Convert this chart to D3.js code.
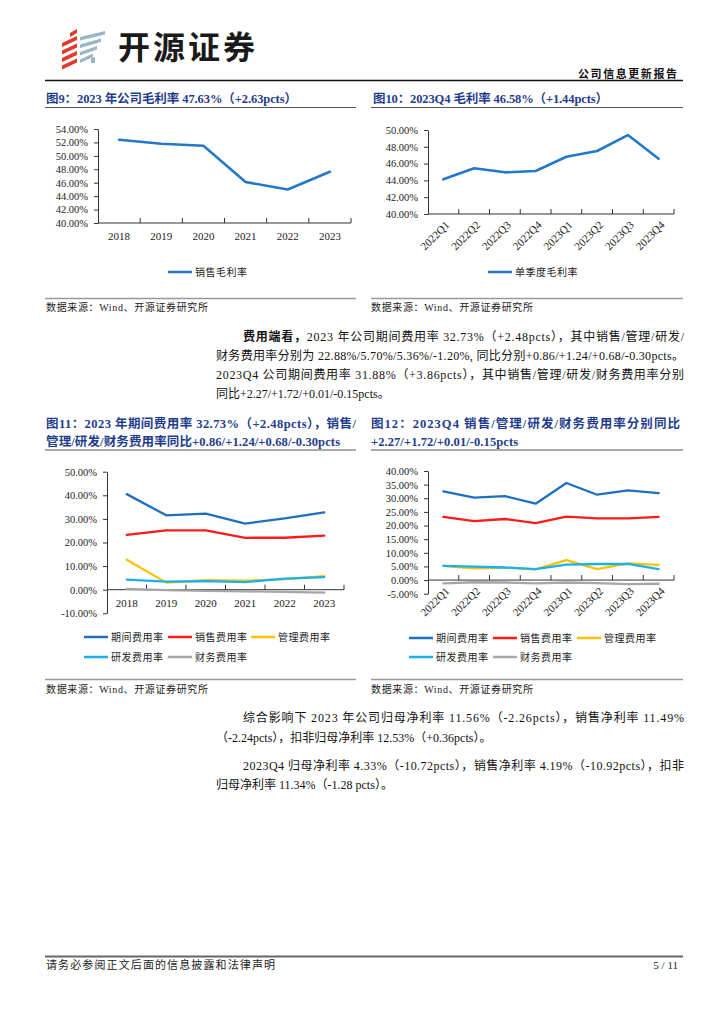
<!DOCTYPE html>
<html><head><meta charset="utf-8">
<script src="https://cdn.jsdelivr.net/npm/d3@7"></script>
<style>html,body{margin:0;padding:0;background:#fff;}svg{display:block;}</style>
</head><body>
<script>
// ---------------- DATA ----------------
const gmYears = ["2018","2019","2020","2021","2022","2023"];
const gmAnnual = [52.4, 51.8, 51.5, 46.1, 45.0, 47.63];

const quarters = ["2022Q1","2022Q2","2022Q3","2022Q4","2023Q1","2023Q2","2023Q3","2023Q4"];
const gmQuarter = [44.13, 45.44, 44.96, 45.12, 46.82, 47.5, 49.4, 46.58];

const expNames = ["期间费用率","销售费用率","管理费用率","研发费用率","财务费用率"];
const expPeriodAnnual = [40.5, 31.5, 32.2, 28.0, 30.25, 32.73];
const expSellAnnual   = [23.2, 25.1, 25.1, 22.0, 22.02, 22.88];
const expAdminAnnual  = [12.7, 3.0, 4.0, 3.8, 4.46, 5.70];
const expRDAnnual     = [4.3, 3.4, 3.6, 3.2, 4.68, 5.36];
const expFinAnnual    = [0.3, -0.2, -0.5, -0.7, -0.9, -1.2];

const expPeriodQ = [32.5, 30.2, 30.8, 28.0, 35.6, 31.3, 32.9, 31.88];
const expSellQ   = [23.2, 21.6, 22.4, 20.9, 23.3, 22.6, 22.6, 23.2];
const expAdminQ  = [5.2, 4.3, 4.6, 3.9, 7.3, 4.0, 6.1, 5.6];
const expRDQ     = [5.2, 4.9, 4.6, 4.0, 5.7, 5.9, 5.9, 4.0];
const expFinQ    = [-1.2, -0.8, -0.9, -1.2, -0.9, -1.1, -1.5, -1.35];

const gmTicksAnnual = [40,42,44,46,48,50,52,54];
const gmTicksQuarter = [40,42,44,46,48,50];
const expTicksAnnual = [-10,0,10,20,30,40,50];
const expTicksQuarter = [-5,0,5,10,15,20,25,30,35,40];

// ---------------- STYLE ----------------
const FONT = "'Liberation Serif','Noto Sans CJK SC',serif";
const TITLE_COLOR = "#1f3d8c";
const COLORS = ["#1f6fbf","#ff1a1a","#ffc000","#17b2ee","#a6a6a6"];
const GM_COLOR = "#2478c8";

const svg = d3.select("body").append("svg").attr("width",724).attr("height",1024)
  .style("font-family", FONT);
svg.append("rect").attr("width",724).attr("height",1024).attr("fill","#fff");

function txt(x, y, s, o = {}) {
  const t = svg.append("text").attr("x", x).attr("y", y)
    .attr("font-size", o.size || 12)
    .attr("fill", o.fill || "#111")
    .attr("font-weight", o.bold ? "bold" : "normal")
    .attr("text-anchor", o.anchor || "start")
    .text(s);
  if (o.len) t.attr("textLength", o.len).attr("lengthAdjust", "spacing");
  if (o.ls) t.attr("letter-spacing", o.ls);
  return t;
}
function hline(x1, x2, y, color, w) {
  svg.append("line").attr("x1",x1).attr("x2",x2).attr("y1",y).attr("y2",y)
    .attr("stroke",color).attr("stroke-width",w);
}

// ---------------- HEADER ----------------
const logo = svg.append("g");
const red = "#e0392d", blue = "#98b6c8";
[0,1,2,3].forEach(i => {
  const y = 38 + i * 7.5;
  logo.append("path").attr("d", `M62,${y+5} L77,${y-2} L77,${y+2} L62,${y+9} Z`).attr("fill", red);
});
logo.append("path").attr("d","M70,33 L77,29 L77,33 L70,37 Z").attr("fill", red);
[0,1,2,3].forEach(i => {
  const y = 31 + i * 7.5;
  const w = 25 - i * 4;
  logo.append("path").attr("d", `M80,${y+6} L${80+w},${y} L${80+w},${y+3.5} L80,${y+9.5} Z`).attr("fill", blue);
});
logo.append("path").attr("d","M91,58 L95,57 L95,63 L91,63 Z").attr("fill", blue);

txt(118, 59, "开源证券", {size: 32, bold: true, fill: "#1a1a1a", len: 137});
txt(578, 78, "公司信息更新报告", {size: 11, bold: true, len: 99});
hline(45, 683, 80.5, "#111", 1.5);

// ---------------- TITLES ----------------
txt(46, 103, "图9：2023 年公司毛利率 47.63%（+2.63pcts）", {size: 12.5, bold: true, fill: TITLE_COLOR, len: 251});
txt(373, 103, "图10：2023Q4 毛利率 46.58%（+1.44pcts）", {size: 12.5, bold: true, fill: TITLE_COLOR, len: 235});
hline(45, 356, 107.5, "#555", 1);
hline(371, 683, 107.5, "#555", 1);

txt(46, 428, "图11：2023 年期间费用率 32.73%（+2.48pcts），销售/", {size: 12.5, bold: true, fill: TITLE_COLOR, len: 310});
txt(46, 446, "管理/研发/财务费用率同比+0.86/+1.24/+0.68/-0.30pcts", {size: 12.5, bold: true, fill: TITLE_COLOR, len: 294});
txt(371, 428, "图12：2023Q4 销售/管理/研发/财务费用率分别同比", {size: 12.5, bold: true, fill: TITLE_COLOR, len: 309});
txt(371, 446, "+2.27/+1.72/+0.01/-0.15pcts", {size: 12.5, bold: true, fill: TITLE_COLOR, len: 147});
hline(45, 356, 450, "#555", 1);
hline(371, 683, 450, "#555", 1);

// ---------------- CHART FUNCTION ----------------
function lineChart(c) {
  const g = svg.append("g");
  const x = d3.scaleBand().domain(c.cats).range([c.left, c.right]);
  const y = d3.scaleLinear().domain([c.ymin, c.ymax]).range([c.bottom, c.top]);
  const yAxis = d3.axisLeft(y).tickValues(c.ticks).tickFormat(d => d.toFixed(2) + "%")
    .tickSize(4).tickSizeOuter(0).tickPadding(6);
  const ya = g.append("g").attr("transform", `translate(${c.left},0)`).call(yAxis);
  ya.select(".domain").attr("stroke", "#333");
  ya.selectAll(".tick line").attr("stroke", "#333");
  ya.selectAll(".tick text").attr("font-size", 10.5).attr("fill", "#222").style("font-family", FONT);

  const ay = y(c.axisAt);
  g.append("line").attr("x1", c.left).attr("x2", c.right).attr("y1", ay).attr("y2", ay)
    .attr("stroke", "#333").attr("stroke-width", 1);
  c.cats.forEach((cat, i) => {
    const bx = x(cat) + x.bandwidth();
    g.append("line").attr("x1", bx).attr("x2", bx).attr("y1", ay).attr("y2", ay - 5)
      .attr("stroke", "#333").attr("stroke-width", 1);
    const cx = x(cat) + x.bandwidth() / 2;
    if (c.rotate) {
      g.append("text").attr("transform", `translate(${cx + 4},${ay + 9}) rotate(-45)`)
        .attr("text-anchor", "end").attr("dy", "0.35em").attr("font-size", 11)
        .attr("fill", "#222").text(cat);
    } else {
      g.append("text").attr("x", cx).attr("y", ay + 17).attr("text-anchor", "middle")
        .attr("font-size", 11).attr("fill", "#222").text(cat);
    }
  });
  const line = d3.line().x((d, i) => x(c.cats[i]) + x.bandwidth() / 2).y(d => y(d));
  c.series.forEach(s => {
    g.append("path").datum(s.values).attr("d", line).attr("fill", "none")
      .attr("stroke", s.color).attr("stroke-width", s.width || 2.4)
      .attr("stroke-linejoin", "round").attr("stroke-linecap", "round");
  });
}
function legendItem(x, y, name, color) {
  svg.append("line").attr("x1", x).attr("x2", x + 24).attr("y1", y).attr("y2", y)
    .attr("stroke", color).attr("stroke-width", 2.5);
  txt(x + 27, y + 3.5, name, {size: 10, fill: "#222", len: name.length * 10.4});
}

// Chart 9
lineChart({cats: gmYears, series: [{values: gmAnnual, color: GM_COLOR, width: 2.6}],
  left: 98, right: 351, top: 129, bottom: 223, ymin: 40, ymax: 54, ticks: gmTicksAnnual, axisAt: 40});
legendItem(168, 272, "销售毛利率", GM_COLOR);

// Chart 10
lineChart({cats: quarters, series: [{values: gmQuarter, color: GM_COLOR, width: 2.6}],
  left: 428, right: 674, top: 130, bottom: 214, ymin: 40, ymax: 50, ticks: gmTicksQuarter, axisAt: 40, rotate: true});
legendItem(488, 272, "单季度毛利率", GM_COLOR);

// Sources
hline(45, 356, 298.5, "#999", 1.5);
hline(371, 683, 298.5, "#999", 1.5);
txt(46, 311, "数据来源：Wind、开源证券研究所", {size: 10, fill: "#222", len: 162});
txt(371, 311, "数据来源：Wind、开源证券研究所", {size: 10, fill: "#222", len: 162});

// Chart 11
const annualSeries = [expPeriodAnnual, expSellAnnual, expAdminAnnual, expRDAnnual, expFinAnnual]
  .map((v, i) => ({values: v, color: COLORS[i], width: 2.3}));
lineChart({cats: gmYears, series: annualSeries,
  left: 107, right: 344, top: 471.7, bottom: 613.3, ymin: -10, ymax: 50, ticks: expTicksAnnual, axisAt: 0});
legendItem(84, 637, expNames[0], COLORS[0]);
legendItem(168, 637, expNames[1], COLORS[1]);
legendItem(251, 637, expNames[2], COLORS[2]);
legendItem(84, 657, expNames[3], COLORS[3]);
legendItem(168, 657, expNames[4], COLORS[4]);

// Chart 12
const quarterSeries = [expPeriodQ, expSellQ, expAdminQ, expRDQ, expFinQ]
  .map((v, i) => ({values: v, color: COLORS[i], width: 2.3}));
lineChart({cats: quarters, series: quarterSeries,
  left: 428, right: 674, top: 471, bottom: 593.7, ymin: -5, ymax: 40, ticks: expTicksQuarter, axisAt: 0, rotate: true});
legendItem(409, 638, expNames[0], COLORS[0]);
legendItem(493, 638, expNames[1], COLORS[1]);
legendItem(577, 638, expNames[2], COLORS[2]);
legendItem(409, 657, expNames[3], COLORS[3]);
legendItem(493, 657, expNames[4], COLORS[4]);

hline(45, 356, 679.5, "#999", 1.5);
hline(371, 683, 679.5, "#999", 1.5);
txt(46, 693, "数据来源：Wind、开源证券研究所", {size: 10, fill: "#222", len: 162});
txt(371, 693, "数据来源：Wind、开源证券研究所", {size: 10, fill: "#222", len: 162});

// ---------------- PARAGRAPHS ----------------
function para(x, y, parts, len) {
  const t = svg.append("text").attr("x", x).attr("y", y).attr("font-size", 12).attr("fill", "#111");
  parts.forEach(p => {
    const ts = t.append("tspan").text(p.t);
    if (p.b) ts.attr("font-weight", "bold");
  });
  if (len) t.attr("textLength", len).attr("lengthAdjust", "spacing");
}
para(243, 341, [{t: "费用端看，", b: true}, {t: "2023 年公司期间费用率 32.73%（+2.48pcts），其中销售/管理/研发/"}], 441);
para(216, 360, [{t: "财务费用率分别为 22.88%/5.70%/5.36%/-1.20%, 同比分别+0.86/+1.24/+0.68/-0.30pcts。"}], 468);
para(216, 379, [{t: "2023Q4 公司期间费用率 31.88%（+3.86pcts），其中销售/管理/研发/财务费用率分别"}], 468);
para(216, 398, [{t: "同比+2.27/+1.72/+0.01/-0.15pcts。"}]);

para(243, 722, [{t: "综合影响下 2023 年公司归母净利率 11.56%（-2.26pcts），销售净利率 11.49%"}], 441);
para(216, 742, [{t: "（-2.24pcts），扣非归母净利率 12.53%（+0.36pcts）。"}]);
para(243, 770, [{t: "2023Q4 归母净利率 4.33%（-10.72pcts），销售净利率 4.19%（-10.92pcts），扣非"}], 441);
para(216, 789, [{t: "归母净利率 11.34%（-1.28 pcts）。"}]);

// ---------------- FOOTER ----------------
hline(45, 683, 956.5, "#666", 2);
txt(46, 969, "请务必参阅正文后面的信息披露和法律声明", {size: 11, fill: "#222", len: 229});
txt(678, 969, "5 / 11", {size: 11, fill: "#222", anchor: "end"});
</script>
</body></html>
